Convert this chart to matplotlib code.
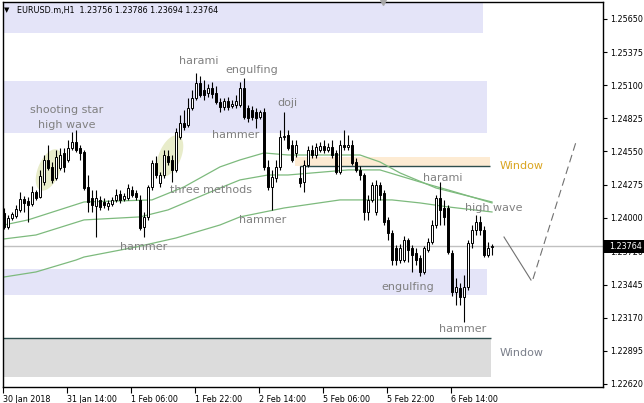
import matplotlib
matplotlib.use('Agg')
import matplotlib.pyplot as plt
import numpy as np
from matplotlib.patches import Rectangle
import matplotlib.transforms as mtransforms

plt.rcParams['font.family'] = ['DejaVu Sans']

# ---------------- data ----------------
opens = [1.24040, 1.23923, 1.23998, 1.24015, 1.24065, 1.24156, 1.24139, 1.24114, 1.24214, 1.24173,
         1.24297, 1.24480, 1.24422, 1.24330, 1.24413, 1.24538, 1.24480, 1.24579, 1.24629, 1.24579,
         1.24546, 1.24256, 1.24164, 1.24098, 1.24148, 1.24131, 1.24098, 1.24114, 1.24148, 1.24197,
         1.24156, 1.24164, 1.24231, 1.24206, 1.24148, 1.23923, 1.24007, 1.24256, 1.24455, 1.24289,
         1.24355, 1.24513, 1.24480, 1.24397, 1.24671, 1.24787, 1.24770, 1.24911, 1.24994, 1.25119,
         1.25061, 1.25036, 1.25077, 1.25036, 1.24961, 1.24920, 1.24970, 1.24928, 1.24936, 1.24936,
         1.25077, 1.24911, 1.24895, 1.24878, 1.24837, 1.24878, 1.24422, 1.24256, 1.24330, 1.24422,
         1.24671, 1.24687, 1.24604, 1.24538, 1.24330, 1.24297, 1.24438, 1.24563, 1.24521, 1.24563,
         1.24596, 1.24563, 1.24588, 1.24538, 1.24380, 1.24604, 1.24588, 1.24604, 1.24463, 1.24397,
         1.24355, 1.24048, 1.24148, 1.24048, 1.24272, 1.24206, 1.23982, 1.23874, 1.23749, 1.23649,
         1.23649, 1.23815, 1.23749, 1.23708, 1.23666, 1.23550, 1.23732, 1.23799, 1.23940, 1.24164,
         1.24081, 1.24081, 1.23708, 1.23384, 1.23417, 1.23342, 1.23425, 1.23791, 1.23898, 1.23965,
         1.23898, 1.23691, 1.23756]
highs = [1.24081, 1.24023, 1.24048, 1.24106, 1.24214, 1.24181, 1.24173, 1.24264, 1.24231, 1.24397,
         1.24521, 1.24604, 1.24463, 1.24563, 1.24579, 1.24579, 1.24646, 1.24712, 1.24729, 1.24604,
         1.24563, 1.24355, 1.24231, 1.24231, 1.24181, 1.24164, 1.24148, 1.24173, 1.24239, 1.24231,
         1.24206, 1.24280, 1.24264, 1.24231, 1.24189, 1.24048, 1.24272, 1.24480, 1.24513, 1.24380,
         1.24563, 1.24563, 1.24521, 1.24745, 1.24853, 1.24895, 1.24994, 1.25061, 1.25202, 1.25177,
         1.25144, 1.25111, 1.25127, 1.25094, 1.24994, 1.24994, 1.25003, 1.24978, 1.25019, 1.25127,
         1.25160, 1.24936, 1.24928, 1.24911, 1.24895, 1.24911, 1.24480, 1.24397, 1.24480, 1.24729,
         1.24878, 1.24729, 1.24646, 1.24646, 1.24430, 1.24480, 1.24596, 1.24604, 1.24621, 1.24629,
         1.24646, 1.24621, 1.24646, 1.24563, 1.24646, 1.24729, 1.24687, 1.24646, 1.24496, 1.24430,
         1.24372, 1.24189, 1.24297, 1.24314, 1.24297, 1.24231, 1.24007, 1.23898, 1.23774, 1.23782,
         1.23849, 1.23832, 1.23774, 1.23749, 1.23691, 1.23766, 1.23832, 1.23982, 1.24189, 1.24297,
         1.24148, 1.24106, 1.23732, 1.23500, 1.23458, 1.23525, 1.23815, 1.23940, 1.24023, 1.24015,
         1.23932, 1.23799, 1.23786]
lows = [1.23907, 1.23907, 1.23982, 1.23998, 1.24048, 1.24048, 1.23965, 1.24098, 1.24148, 1.24164,
        1.24272, 1.24397, 1.24289, 1.24314, 1.24397, 1.24380, 1.24463, 1.24563, 1.24546, 1.24480,
        1.24231, 1.24048, 1.24048, 1.23840, 1.24065, 1.24081, 1.24065, 1.24098, 1.24131, 1.24123,
        1.24139, 1.24148, 1.24173, 1.24148, 1.23898, 1.23840, 1.23982, 1.24231, 1.24330, 1.24256,
        1.24330, 1.24438, 1.24297, 1.24380, 1.24654, 1.24729, 1.24754, 1.24895, 1.24978, 1.25003,
        1.24978, 1.25003, 1.24994, 1.24945, 1.24878, 1.24895, 1.24895, 1.24911, 1.24911, 1.24920,
        1.24820, 1.24795, 1.24812, 1.24745, 1.24820, 1.24397, 1.24231, 1.24065, 1.24297, 1.24397,
        1.24646, 1.24563, 1.24463, 1.24505, 1.24256, 1.24214, 1.24422, 1.24496, 1.24496, 1.24546,
        1.24538, 1.24546, 1.24496, 1.24364, 1.24364, 1.24563, 1.24563, 1.24438, 1.24380, 1.24314,
        1.23982, 1.23982, 1.24131, 1.24023, 1.24148, 1.23940, 1.23815, 1.23608, 1.23608, 1.23625,
        1.23633, 1.23633, 1.23550, 1.23608, 1.23517, 1.23533, 1.23716, 1.23782, 1.23915, 1.23940,
        1.23940, 1.23699, 1.23351, 1.23276, 1.23276, 1.23135, 1.23400, 1.23749, 1.23857, 1.23857,
        1.23674, 1.23674, 1.23694]
closes = [1.23923, 1.23998, 1.24031, 1.24073, 1.24156, 1.24123, 1.24106, 1.24214, 1.24164, 1.24347,
          1.24480, 1.24413, 1.24314, 1.24505, 1.24521, 1.24422, 1.24579, 1.24629, 1.24563, 1.24538,
          1.24247, 1.24131, 1.24106, 1.24164, 1.24090, 1.24106, 1.24123, 1.24148, 1.24189, 1.24148,
          1.24181, 1.24247, 1.24189, 1.24173, 1.23915, 1.24007, 1.24256, 1.24455, 1.24355, 1.24355,
          1.24521, 1.24463, 1.24397, 1.24712, 1.24787, 1.24754, 1.24911, 1.24994, 1.25119, 1.25019,
          1.25019, 1.25077, 1.25028, 1.24961, 1.24920, 1.24970, 1.24920, 1.24945, 1.24970, 1.25077,
          1.24837, 1.24828, 1.24837, 1.24828, 1.24878, 1.24422, 1.24256, 1.24339, 1.24422, 1.24671,
          1.24679, 1.24579, 1.24480, 1.24604, 1.24289, 1.24438, 1.24563, 1.24521, 1.24588, 1.24596,
          1.24563, 1.24588, 1.24521, 1.24380, 1.24604, 1.24588, 1.24604, 1.24455, 1.24397, 1.24355,
          1.24048, 1.24148, 1.24272, 1.24272, 1.24189, 1.23965, 1.23874, 1.23649, 1.23649, 1.23749,
          1.23815, 1.23732, 1.23691, 1.23649, 1.23550, 1.23749, 1.23799, 1.23940, 1.24164, 1.24065,
          1.24007, 1.23716, 1.23384, 1.23425, 1.23342, 1.23425, 1.23791, 1.23898, 1.23965, 1.23898,
          1.23691, 1.23749, 1.23764]

# moving averages (bar index, value)
ma1_idx = [0, 6, 20, 37, 45, 54, 59, 65, 71, 84, 89, 94, 99, 108, 122]
ma1_val = [1.23940, 1.23982, 1.24131, 1.24148, 1.24256, 1.24422, 1.24480, 1.24538, 1.24521,
           1.24521, 1.24521, 1.24463, 1.24372, 1.24247, 1.24131]
ma2_idx = [0, 8, 20, 34, 41, 54, 59, 66, 71, 86, 94, 104, 111, 122]
ma2_val = [1.23824, 1.23857, 1.23982, 1.24007, 1.24065, 1.24247, 1.24314, 1.24355, 1.24355,
           1.24397, 1.24397, 1.24297, 1.24231, 1.24123]
ma3_idx = [0, 8, 18, 20, 33, 43, 54, 59, 70, 84, 97, 104, 111, 122]
ma3_val = [1.23508, 1.23550, 1.23649, 1.23674, 1.23757, 1.23832, 1.23940, 1.24007, 1.24081,
           1.24148, 1.24148, 1.24123, 1.24090, 1.24048]

last_price = 1.23764
title_text = 'EURUSD.m,H1  1.23756 1.23786 1.23694 1.23764'

# x-axis labels (every 16 bars)
xtick_bars = [0, 16, 32, 48, 64, 80, 96, 112]
xtick_labels = ['30 Jan 2018', '31 Jan 14:00', '1 Feb 06:00', '1 Feb 22:00',
                '2 Feb 14:00', '5 Feb 06:00', '5 Feb 22:00', '6 Feb 14:00']
ytick_vals = [1.25650, 1.25375, 1.25100, 1.24825, 1.24550, 1.24275, 1.24000,
              1.23720, 1.23445, 1.23170, 1.22895, 1.22620]
ytick_labels = ['1.25650', '1.25375', '1.25100', '1.24825', '1.24550', '1.24275', '1.24000',
                '1.23720', '1.23445', '1.23170', '1.22895', '1.22620']

# zones (bar start, bar end, low, high)
blue_zones = [(-0.25, 119.75, 1.25531, 1.25900),
              (-0.25, 120.75, 1.24704, 1.25136),
              (-0.25, 120.75, 1.23359, 1.23575)]
window_up = (72.75, 121.5, 1.24430, 1.24505)
window_down = (-0.25, 121.75, 1.22678, 1.23002)

# pattern labels (text, bar, price)
pattern_labels = [('shooting star', 15.75, 1.24895), ('high wave', 15.75, 1.24770),
                  ('harami', 48.75, 1.25302), ('engulfing', 62.0, 1.25227),
                  ('doji', 70.75, 1.24953), ('hammer', 58.0, 1.24687),
                  ('three methods', 51.75, 1.24231), ('hammer', 35.0, 1.23757),
                  ('hammer', 64.75, 1.23982), ('harami', 109.75, 1.24330),
                  ('high wave', 122.5, 1.24081), ('engulfing', 101.0, 1.23425),
                  ('hammer', 114.75, 1.23077)]
window_labels = [('Window', 124.0, 1.24430), ('Window', 124.0, 1.22877)]

# highlight ellipses (center bar, center price)
highlight_centers = [(11.25, 1.24397), (41.5, 1.24513)]

# projection lines
proj_solid_x = [125.0, 131.75]
proj_solid_y = [1.23840, 1.23483]
proj_dash_x = [132.25, 143.0]
proj_dash_y = [1.23492, 1.24629]

# ---------------- drawing ----------------
W, H = 644, 403
fig = plt.figure(figsize=(W / 100, H / 100), dpi=100)
ax = fig.add_axes([3 / W, 1 - 387 / H, 600 / W, 385 / H])
xmin, xmax = -0.25, 149.75
ymin, ymax = 1.22595, 1.25791
ax.set_xlim(xmin, xmax)
ax.set_ylim(ymin, ymax)
px_per_bar = 600 / (xmax - xmin)
px_per_price = 385 / (ymax - ymin)

lav = '#e4e4f8'
for x0, x1, lo, hi in blue_zones:
    ax.add_patch(Rectangle((x0, lo), x1 - x0, hi - lo, fc=lav, ec='none', zorder=0))
x0, x1, lo, hi = window_up
ax.add_patch(Rectangle((x0, lo), x1 - x0, hi - lo, fc='#fdebd3', ec='none', zorder=0))
ax.hlines(lo, 74.0, x1, color='#2f4f4f', lw=1.0, zorder=1)
x0, x1, lo, hi = window_down
ax.add_patch(Rectangle((x0, lo), x1 - x0, hi - lo, fc='#dcdcdc', ec='none', zorder=0))
ax.hlines(hi, x0, x1, color='#2f4f4f', lw=1.0, zorder=1)

# ellipses
t = np.linspace(0, 2 * np.pi, 100)
ang = np.deg2rad(67)
a_px, b_px = 22, 11
for cx, cy in highlight_centers:
    ex = a_px * np.cos(t) * np.cos(ang) - b_px * np.sin(t) * np.sin(ang)
    ey = a_px * np.cos(t) * np.sin(ang) + b_px * np.sin(t) * np.cos(ang)
    ax.fill(cx + ex / px_per_bar, cy + ey / px_per_price, color='#e8ecca', ec='none', zorder=1)

# current price line
ax.axhline(last_price, color='#c0c0c0', lw=1.0, zorder=1)

# moving averages
ma_col = '#7dba7d'
ax.plot(ma1_idx, ma1_val, color=ma_col, lw=0.9, zorder=2)
ax.plot(ma2_idx, ma2_val, color=ma_col, lw=0.9, zorder=2)
ax.plot(ma3_idx, ma3_val, color=ma_col, lw=0.9, zorder=2)

# candles
o = np.array(opens); h = np.array(highs); l = np.array(lows); c = np.array(closes)
xs = np.arange(len(c))
ax.vlines(xs, l, h, color='black', lw=0.8, zorder=3)
up = c >= o
ax.bar(xs, np.abs(c - o), bottom=np.minimum(o, c), width=0.72,
       color=np.where(up, 'white', 'black'), edgecolor='black', linewidth=0.7, zorder=4)

# projection
ax.plot(proj_solid_x, proj_solid_y, color='#707070', lw=0.8, zorder=2)
ax.plot(proj_dash_x, proj_dash_y, color='#707070', lw=0.8, ls=(0, (7, 4)), zorder=2)

# labels
for txt, bx, py in pattern_labels:
    ax.text(bx, py, txt, color='#808080', fontsize=8, ha='center', va='center', zorder=6)
ax.text(window_labels[0][1], window_labels[0][2], window_labels[0][0], color='#daa520',
        fontsize=8, ha='left', va='center', zorder=6)
ax.text(window_labels[1][1], window_labels[1][2], window_labels[1][0], color='#7a7f8a',
        fontsize=8, ha='left', va='center', zorder=6)

# axes styling
for s in ax.spines.values():
    s.set_color('black'); s.set_linewidth(1.0)
ax.yaxis.tick_right()
ax.set_yticks(ytick_vals)
ax.set_yticklabels(ytick_labels)
ax.set_xticks([b - 0.25 for b in xtick_bars])
ax.set_xticklabels(xtick_labels)
ax.tick_params(axis='y', length=3, width=0.8, labelsize=5.8, pad=2, colors='black')
ax.tick_params(axis='x', length=4, width=0.8, labelsize=5.8, pad=2, colors='black')
for lbl in ax.get_xticklabels():
    lbl.set_ha('left')

# current price box on the right axis
fig.canvas.draw()
ypix = ax.transData.transform((0, last_price))[1]
fig.add_artist(Rectangle((603 / W, (ypix - 6.5) / H), 41 / W, 13 / H, transform=fig.transFigure,
                         fc='black', ec='none', zorder=5))
fig.text(609 / W, ypix / H, '1.23764', color='white', fontsize=5.8, ha='left', va='center', zorder=6)

# top marker and title
ax.plot([94.75], [ymax], marker='v', color='#a8a8a8', markersize=5, clip_on=False, zorder=6)
fig.text(4 / W, 1 - 10 / H, '\u25bc', fontsize=5, color='black', ha='left', va='center')
fig.text(17 / W, 1 - 10 / H, title_text, fontsize=5.8, color='black', ha='left', va='center')

fig.savefig('out.png', dpi=100)
